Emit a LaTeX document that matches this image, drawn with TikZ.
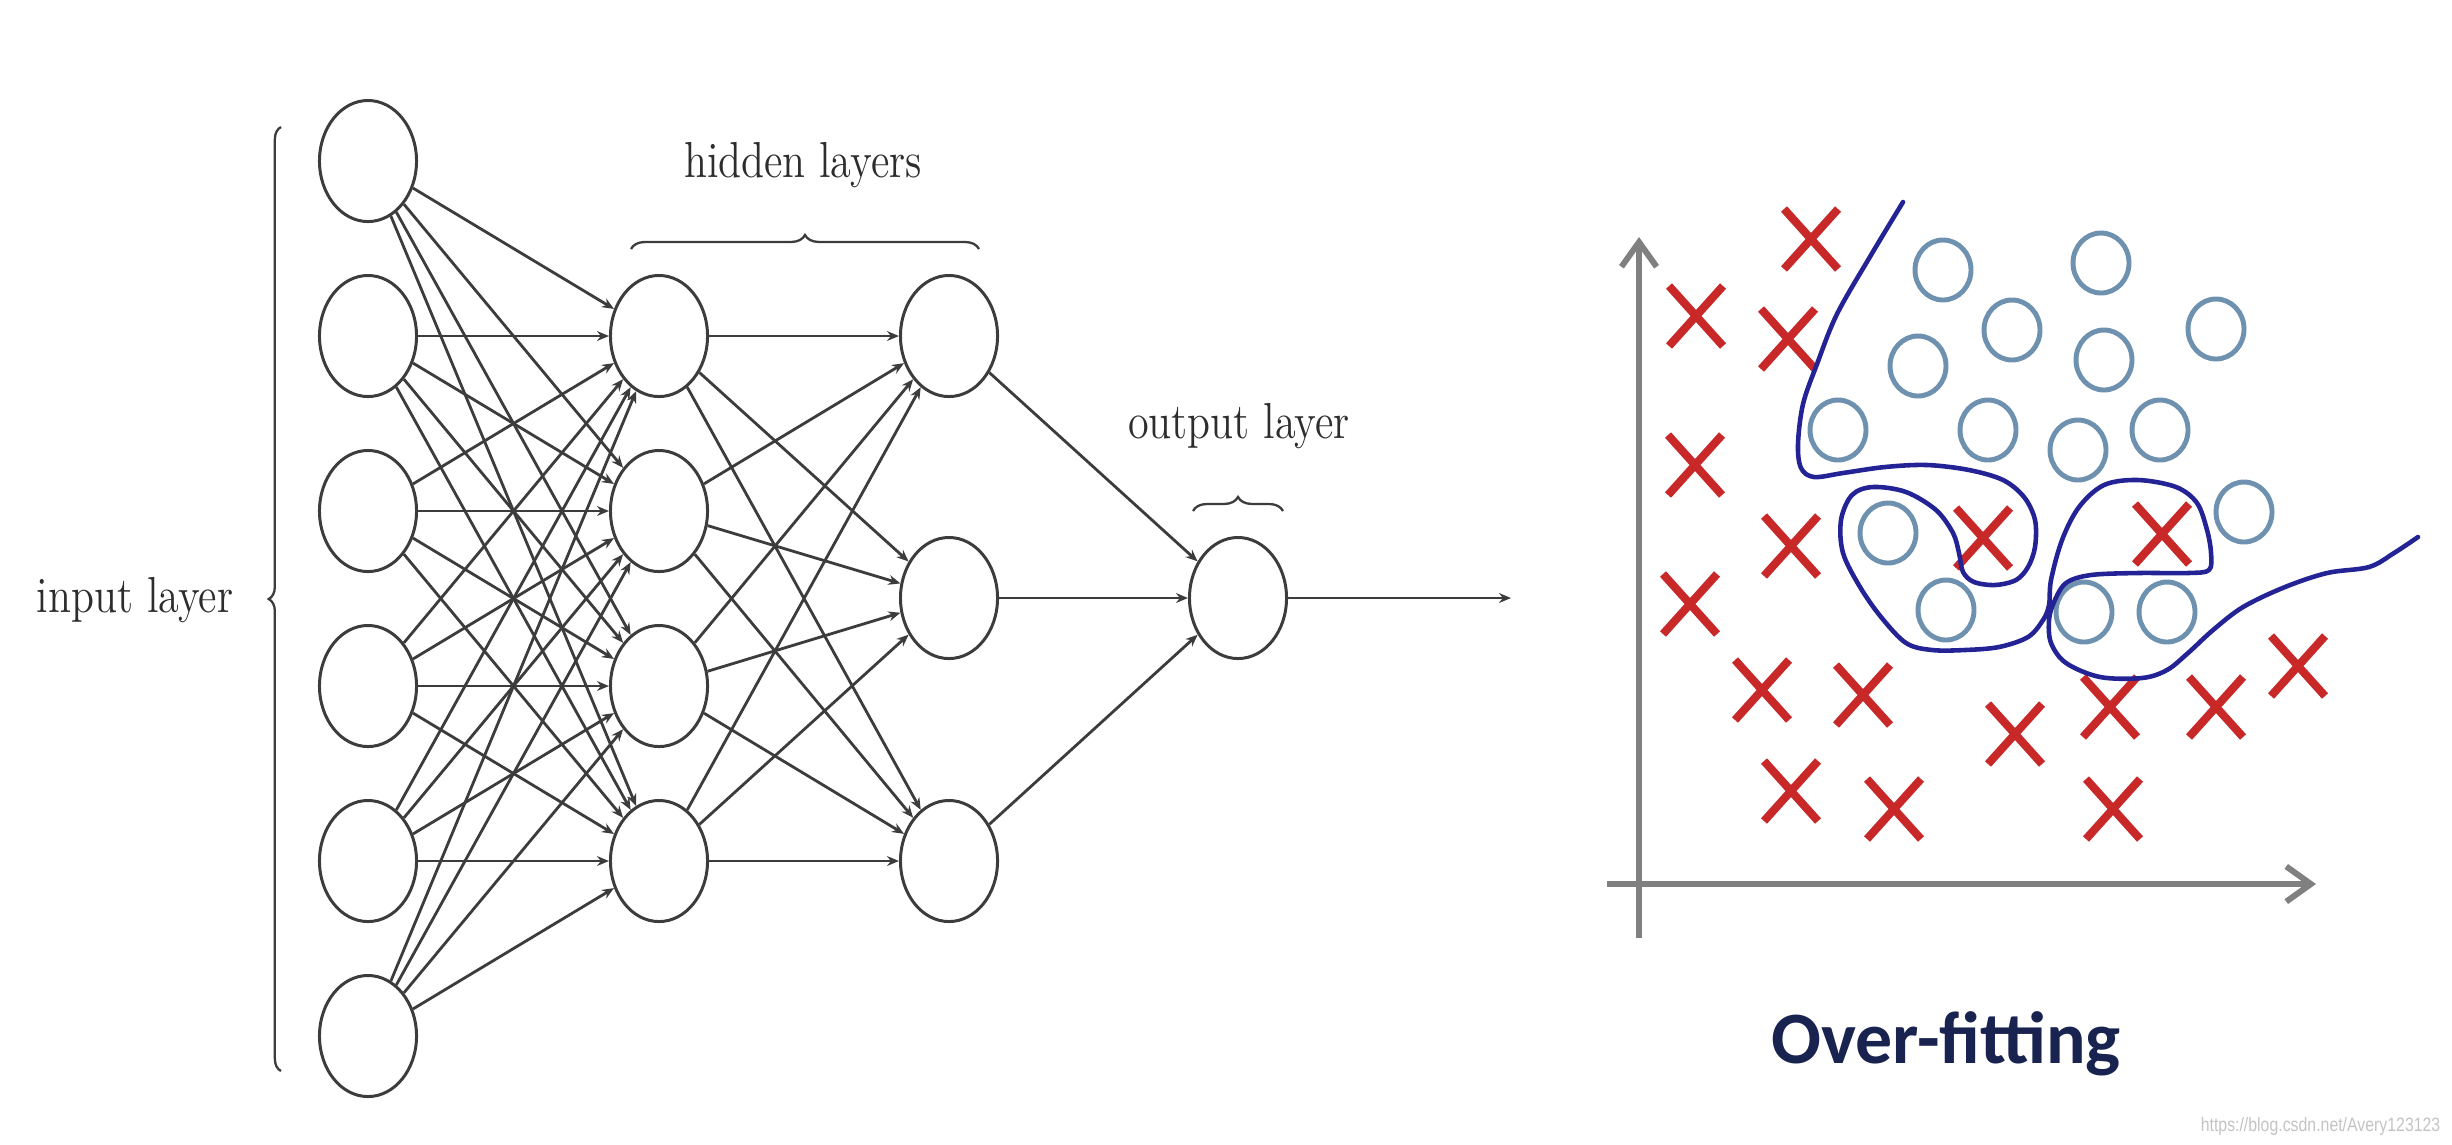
\documentclass[tikz,border=0pt]{standalone}
\usepackage{fontspec}
\usetikzlibrary{arrows.meta,decorations.pathreplacing,shapes.geometric}
\newfontfamily\carlito{Carlito}
\newfontfamily\libsans{Liberation Sans}
\definecolor{nnline}{RGB}{60,60,60}
\definecolor{nntext}{RGB}{45,45,45}
\definecolor{crossred}{RGB}{200,40,40}
\definecolor{dotblue}{RGB}{110,145,175}
\definecolor{curveblue}{RGB}{35,35,150}
\definecolor{axisgray}{RGB}{128,128,128}
\definecolor{titlenavy}{RGB}{25,35,80}
\definecolor{wmgray}{RGB}{195,195,195}
\begin{document}
\begin{tikzpicture}[x=0.01cm,y=-0.01cm,
  neuron/.style={draw=nnline, line width=0.85pt, ellipse, minimum width=0.97cm, minimum height=1.21cm, inner sep=0pt},
  edge/.style={draw=nnline, line width=0.8pt, -{Stealth[length=3.4pt,width=2.8pt]}},
  bracel/.style={draw=nnline, line width=0.65pt, decorate, decoration={brace, amplitude=3.5pt}},
  layerlabel/.style={text=nntext, font=\fontsize{12}{14}\selectfont, inner sep=0pt, anchor=base},
  xcross/.style={draw=crossred, line width=2.3pt},
  dot/.style={draw=dotblue, line width=1.4pt},
  axisline/.style={draw=axisgray, line width=1.7pt, -{Straight Barb[length=7pt,width=10pt]}},
  curve/.style={draw=curveblue, line width=1.3pt, line join=round, line cap=round},
]
\useasboundingbox (0,0) rectangle (2452,1144);

% ---------------- neural network ----------------
\foreach \k/\yy in {1/161,2/336,3/511,4/686,5/861,6/1036}
  \node[neuron] (i\k) at (368,\yy) {};
\foreach \k/\yy in {1/336,2/511,3/686,4/861}
  \node[neuron] (a\k) at (659,\yy) {};
\foreach \k/\yy in {1/336,2/598,3/861}
  \node[neuron] (b\k) at (949,\yy) {};
\node[neuron] (o) at (1238,598) {};
\coordinate (outend) at (1511,598);

\foreach \i in {1,...,6}
  \foreach \j in {1,...,4}
    \draw[edge] (i\i) -- (a\j);
\foreach \i in {1,...,4}
  \foreach \j in {1,...,3}
    \draw[edge] (a\i) -- (b\j);
\foreach \i in {1,...,3}
  \draw[edge] (b\i) -- (o);
\draw[edge] (o) -- (outend);

% braces
\coordinate (inb1) at (281,1071);
\coordinate (inb2) at (281,127);
\draw[bracel] (inb1) -- (inb2);
\coordinate (hb1) at (631,249);
\coordinate (hb2) at (979,249);
\draw[bracel, decoration={brace, amplitude=4pt}] (hb1) -- (hb2);
\coordinate (ob1) at (1193,511);
\coordinate (ob2) at (1283,511);
\draw[bracel, decoration={brace, amplitude=4pt}] (ob1) -- (ob2);

% labels
\node[layerlabel] (inlab) at (135,612) {\scalebox{1}[1.2]{input layer}};
\node[layerlabel] (hidlab) at (803,177) {\scalebox{1}[1.2]{hidden layers}};
\node[layerlabel] (outlab) at (1239,438) {\scalebox{1}[1.2]{output layer}};

% ---------------- over-fitting plot ----------------
\coordinate (yb) at (1639,938);
\coordinate (yt) at (1639,237);
\coordinate (xl) at (1607,884);
\coordinate (xr) at (2316,884);
\draw[axisline] (yb) -- (yt);
\draw[axisline] (xl) -- (xr);

\foreach \cx/\cy in {1811/239,1696/316,1788/339,1695/465,1791/546,1690/604,1762/690,1863/695,1791/791,1894/809,2015/734,2110/707,2113/809,2216/707,2298/666,1983/538,2162/534}
  \draw[xcross] (\cx,\cy) ++(-27,-30) -- ++(54,60) ++(0,-60) -- ++(-54,60);

\foreach \cx/\cy in {1943/270,2101/263,2012/330,2216/329,1918/366,2104/360,1838/430,1988/430,2078/450,2160/430,2244/512,1888/533,1946/610,2084/612,2167/612}
  \draw[dot] (\cx,\cy) ellipse [x radius=28, y radius=30];

\draw[curve] plot[smooth, tension=0.55] coordinates {
(1903,202) (1871,255) (1837,314) (1817,364) (1803,404) (1798,444) (1801,468) (1814,477)
(1843,473) (1885,467) (1927,465) (1969,470) (2003,480) (2024,497) (2035,520) (2035,547)
(2028,567) (2016,580) (1995,585) (1974,582) (1963,572) (1959,553) (1953,533) (1936,510)
(1906,492) (1873,487) (1852,495) (1841,520) (1843,553) (1860,587) (1881,617) (1906,643)
(1932,650) (1965,650) (1999,647) (2028,637) (2043,620) (2049,605) (2051,580) (2062,540)
(2079,507) (2104,485) (2138,480) (2176,487) (2197,503) (2207,530) (2211,553) (2209,570)
(2188,573) (2138,573) (2091,575) (2066,583) (2054,602) (2049,620) (2051,643) (2066,663)
(2100,677) (2142,678) (2167,670) (2188,653) (2213,630) (2243,607) (2285,587) (2327,573)
(2369,567) (2394,553) (2418,537)};

\node[anchor=base, inner sep=0pt, text=titlenavy, font=\carlito\bfseries\fontsize{21}{24}\selectfont] (title) at (1946,1063) {Over-fitting};
\node[anchor=base east, inner sep=0pt, text=wmgray, font=\libsans\fontsize{5.5}{6}\selectfont] (wm) at (2441,1131) {\scalebox{0.82}[1]{https://blog.csdn.net/Avery123123}};
\end{tikzpicture}
\end{document}
